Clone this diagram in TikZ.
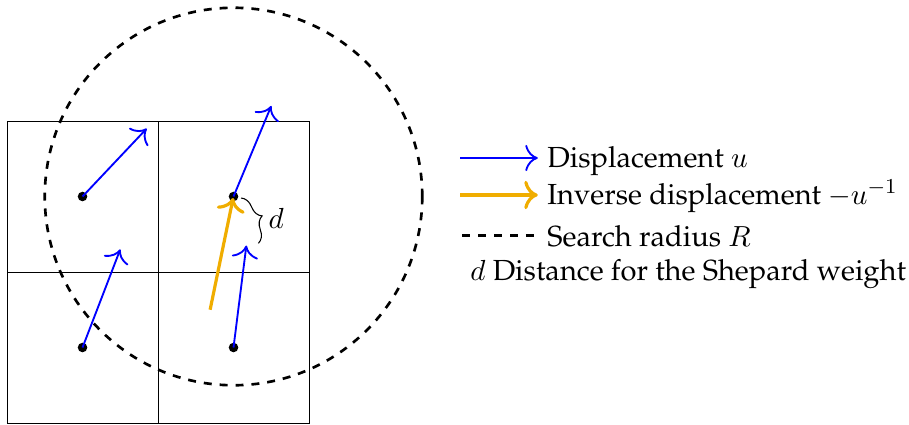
\documentclass[tikz,border=0pt]{standalone}
\usepackage[T1]{fontenc}
\renewcommand{\rmdefault}{ppl}
\usetikzlibrary{decorations.pathreplacing,arrows.meta}
\definecolor{myorange}{RGB}{240,173,0}
\newcommand{\legfont}{\fontsize{10.95}{13.6}\selectfont}
\begin{document}
\begin{tikzpicture}[
  gridline/.style={line width=0.35pt},
  disp/.style={blue, line width=0.7pt, -{To[scale=1.5]}},
  inv/.style={myorange, line width=1.2pt, -{To[scale=1.2]}},
  radius line/.style={line width=1pt, dashed},
  pt/.style={circle, fill=black, inner sep=0pt, minimum size=3.6pt},
  legtext/.style={anchor=base west, inner sep=0pt, font=\legfont}
]
\useasboundingbox (-0.093,-0.026) rectangle (11.947,5.603);
% grid
\draw[gridline] (0,0) rectangle (4,4);
\draw[gridline] (2,0) -- (2,4);
\draw[gridline] (0,2) -- (4,2);
% points
\node[pt] (p1) at (1,3) {};
\node[pt] (p2) at (3,3) {};
\node[pt] (p3) at (1,1) {};
\node[pt] (p4) at (3,1) {};
% arrow ends
\coordinate (e1) at (1.85,3.9);
\coordinate (e2) at (3.5,4.2);
\coordinate (e3) at (1.5,2.3);
\coordinate (e4) at (3.17,2.35);
\coordinate (o1) at (2.69,1.5);
% search radius
\node[draw, radius line, circle, minimum size=5cm, inner sep=0pt] (circ) at (p2) {};
% displacements
\draw[disp] (p1.center) -- (e1);
\draw[disp] (p2.center) -- (e2);
\draw[disp] (p3.center) -- (e3);
\draw[disp] (p4.center) -- (e4);
% inverse
\draw[inv] (o1) -- (2.995,2.98);
% brace
\coordinate (b1) at (3.1,2.98);
\coordinate (b2) at (3.33,2.38);
\draw[decorate, decoration={brace, amplitude=5pt}] (b1) -- (b2)
  node[midway, xshift=10pt, yshift=1pt, font=\legfont] (dl) {$d$};
% legend
\coordinate (l1a) at (6.0,3.51); \coordinate (l1b) at (7.03,3.51);
\coordinate (l2a) at (6.0,3.02); \coordinate (l2b) at (7.03,3.02);
\coordinate (l3a) at (6.03,2.48); \coordinate (l3b) at (7.03,2.48);
\draw[disp] (l1a) -- (l1b);
\draw[inv] (l2a) -- (l2b);
\draw[radius line] (l3a) -- (l3b);
\node[legtext] (t1) at (7.15,3.39) {Displacement $u$};
\node[legtext] (t2) at (7.15,2.90) {Inverse displacement $-u^{-1}$};
\node[legtext] (t3) at (7.15,2.34) {Search radius $R$};
\node[legtext] (t4) at (6.13,1.89) {$d$ Distance for the Shepard weight};
\end{tikzpicture}
\end{document}
